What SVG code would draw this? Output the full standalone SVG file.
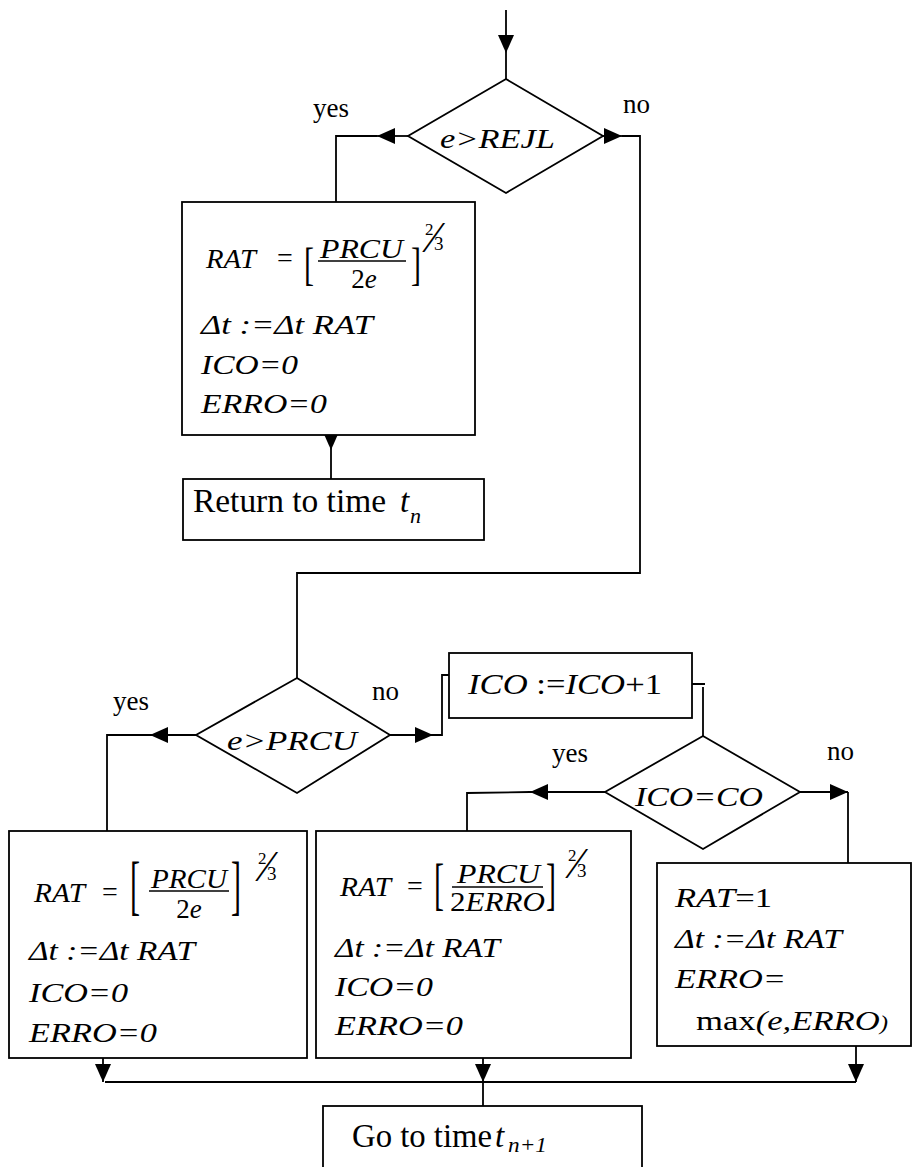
<svg xmlns="http://www.w3.org/2000/svg" width="913" height="1167" viewBox="0 0 913 1167">
<style>
.ln{fill:none;stroke:#000;stroke-width:1.8}
.ar{fill:none;stroke:#000;stroke-width:1.8;marker-end:url(#ah)}
.bx{fill:#fff;stroke:#000;stroke-width:1.8}
.fl{stroke:#000;stroke-width:1.3}
text{font-family:"Liberation Serif","Times New Roman",serif;fill:#000}
.i{font-style:italic}
.f{font-size:28px;font-style:italic}
.lb{font-size:27px}
</style>
<defs>
<marker id="ah" viewBox="0 0 18 16" refX="18" refY="8" markerWidth="18" markerHeight="16" markerUnits="userSpaceOnUse" orient="auto"><path d="M0,0 L18,8 L0,16 z" fill="#000"/></marker>
</defs>
<rect width="913" height="1167" fill="#fff"/>

<g id="connectors">
<path class="ar" d="M506,10 V53"/>
<path class="ln" d="M506,53 V79"/>
<path class="ar" d="M408,136 H377"/>
<path class="ln" d="M377,136 H336 V202"/>
<path class="ar" d="M603,136 H622"/>
<path class="ln" d="M622,136 H640 V573 H297 V678"/>
<path class="ar" d="M331,432 V450"/>
<path class="ln" d="M331,450 V479"/>
<path class="ar" d="M196,735 H150"/>
<path class="ln" d="M150,735 H107 V831"/>
<path class="ar" d="M390,735 H433"/>
<path class="ln" d="M433,735 H442 V675 H449"/>
<path class="ln" d="M692,684 H705 M703,687 V736"/>
<path class="ar" d="M605,792 H530"/>
<path class="ln" d="M530,792 L467,793 V831"/>
<path class="ar" d="M800,792 H848"/>
<path class="ln" d="M848,792 V863"/>
<path class="ar" d="M103,1058 V1082"/>
<path class="ar" d="M483,1056 V1082"/>
<path class="ar" d="M856,1046 V1082"/>
<path class="ln" d="M105,1082 H856 M483,1082 V1106"/>
</g>

<g id="labels">
<text class="lb" x="313" y="117">yes</text>
<text class="lb" x="623" y="113">no</text>
<text class="lb" x="113" y="710">yes</text>
<text class="lb" x="372" y="700">no</text>
<text class="lb" x="552" y="762">yes</text>
<text class="lb" x="827" y="760">no</text>
</g>

<g id="d1">
<polygon class="bx" points="506,79 603,136 506,193 408,136"/>
<text class="f" x="440" y="148" textLength="115" lengthAdjust="spacingAndGlyphs">e&gt;REJL</text>
</g>

<g id="box1">
<rect class="bx" x="182" y="202" width="293" height="233"/>
<text class="f" x="206" y="268" textLength="50" lengthAdjust="spacingAndGlyphs">RAT</text>
<text x="277" y="267" font-size="28">=</text>
<text font-size="30" transform="translate(304,279.6) scale(1,1.58)">[</text>
<text class="f" x="320" y="258" textLength="83" lengthAdjust="spacingAndGlyphs">PRCU</text>
<line class="fl" x1="318" y1="261" x2="406" y2="261"/>
<text x="364" y="288" font-size="27" text-anchor="middle">2<tspan class="i">e</tspan></text>
<text font-size="30" transform="translate(411,279.6) scale(1,1.58)">]</text>
<text><tspan x="425" y="235" font-size="17">2</tspan><tspan x="430" y="252" font-size="44">⁄</tspan><tspan x="434" y="250" font-size="19">3</tspan></text>
<text class="f" x="201" y="334" textLength="172" lengthAdjust="spacingAndGlyphs">Δt :=Δt RAT</text>
<text class="f" x="201" y="374" textLength="97" lengthAdjust="spacingAndGlyphs">ICO=0</text>
<text class="f" x="201" y="413" textLength="126" lengthAdjust="spacingAndGlyphs">ERRO=0</text>
</g>

<g id="return">
<rect class="bx" x="183" y="479" width="301" height="61"/>
<text x="193" y="512" font-size="33" textLength="193" lengthAdjust="spacingAndGlyphs">Return to time</text>
<text x="400" y="512" font-size="33" class="i">t</text>
<text x="410" y="523" font-size="22" class="i">n</text>
</g>

<g id="d2">
<polygon class="bx" points="297,678 390,735 297,793 196,735"/>
<text class="f" x="227" y="750" textLength="130" lengthAdjust="spacingAndGlyphs">e&gt;PRCU</text>
</g>

<g id="ico">
<rect class="bx" x="449" y="653" width="243" height="65"/>
<text x="468" y="694" font-size="30" textLength="194" lengthAdjust="spacingAndGlyphs"><tspan class="i">ICO</tspan> :=<tspan class="i">ICO</tspan>+1</text>
</g>

<g id="d3">
<polygon class="bx" points="703,736 800,792 703,849 605,792"/>
<text class="f" x="635" y="806" textLength="128" lengthAdjust="spacingAndGlyphs">ICO=CO</text>
</g>

<g id="boxA">
<rect class="bx" x="9" y="831" width="298" height="227"/>
<text class="f" x="34" y="902" textLength="51" lengthAdjust="spacingAndGlyphs">RAT</text>
<text x="102" y="901" font-size="28">=</text>
<text font-size="30" transform="translate(130,907.4) scale(1,2.19)">[</text>
<text class="f" x="151" y="888" textLength="76" lengthAdjust="spacingAndGlyphs">PRCU</text>
<line class="fl" x1="149" y1="891" x2="229" y2="891"/>
<text x="189" y="918" font-size="27" text-anchor="middle">2<tspan class="i">e</tspan></text>
<text font-size="30" transform="translate(231,907.4) scale(1,2.19)">]</text>
<text><tspan x="258" y="864" font-size="17">2</tspan><tspan x="263" y="881" font-size="44">⁄</tspan><tspan x="267" y="880" font-size="19">3</tspan></text>
<text class="f" x="29" y="960" textLength="166" lengthAdjust="spacingAndGlyphs">Δt :=Δt RAT</text>
<text class="f" x="29" y="1002" textLength="99" lengthAdjust="spacingAndGlyphs">ICO=0</text>
<text class="f" x="29" y="1042" textLength="128" lengthAdjust="spacingAndGlyphs">ERRO=0</text>
</g>

<g id="boxB">
<rect class="bx" x="316" y="831" width="315" height="227"/>
<text class="f" x="340" y="896" textLength="51" lengthAdjust="spacingAndGlyphs">RAT</text>
<text x="407" y="895" font-size="28">=</text>
<text font-size="30" transform="translate(434,902.8) scale(1,1.92)">[</text>
<text class="f" x="457" y="883" textLength="83" lengthAdjust="spacingAndGlyphs">PRCU</text>
<line class="fl" x1="452" y1="887" x2="543" y2="887"/>
<text x="450" y="911" font-size="28" textLength="95" lengthAdjust="spacingAndGlyphs">2<tspan class="i">ERRO</tspan></text>
<text font-size="30" transform="translate(546,902.8) scale(1,1.92)">]</text>
<text><tspan x="568" y="861" font-size="17">2</tspan><tspan x="573" y="878" font-size="44">⁄</tspan><tspan x="577" y="877" font-size="19">3</tspan></text>
<text class="f" x="335" y="957" textLength="165" lengthAdjust="spacingAndGlyphs">Δt :=Δt RAT</text>
<text class="f" x="335" y="996" textLength="98" lengthAdjust="spacingAndGlyphs">ICO=0</text>
<text class="f" x="335" y="1035" textLength="128" lengthAdjust="spacingAndGlyphs">ERRO=0</text>
</g>

<g id="boxC">
<rect class="bx" x="657" y="863" width="254" height="183"/>
<text x="675" y="907" font-size="28" textLength="97" lengthAdjust="spacingAndGlyphs"><tspan class="i">RAT</tspan>=1</text>
<text class="f" x="675" y="948" textLength="167" lengthAdjust="spacingAndGlyphs">Δt :=Δt RAT</text>
<text class="f" x="675" y="988" textLength="111" lengthAdjust="spacingAndGlyphs">ERRO=</text>
<text x="696" y="1030" font-size="28" textLength="192" lengthAdjust="spacingAndGlyphs">max<tspan class="i">(e,ERRO</tspan><tspan class="i" font-size="20">)</tspan></text>
</g>

<g id="goto">
<rect class="bx" x="323" y="1106" width="319" height="70"/>
<text x="352" y="1147" font-size="33" textLength="140" lengthAdjust="spacingAndGlyphs">Go to time</text>
<text x="495" y="1147" font-size="33" class="i">t</text>
<text x="508" y="1152" font-size="22" class="i" textLength="39" lengthAdjust="spacingAndGlyphs">n+1</text>
</g>
</svg>
